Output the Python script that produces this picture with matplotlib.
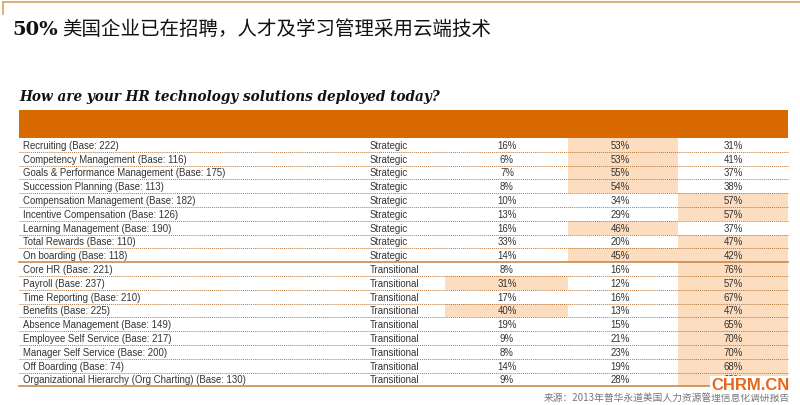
import matplotlib
matplotlib.use("Agg")
import matplotlib.pyplot as plt
from matplotlib.patches import Rectangle

# table data
items = [
    "Recruiting (Base: 222)",
    "Competency Management (Base: 116)",
    "Goals & Performance Management (Base: 175)",
    "Succession Planning (Base: 113)",
    "Compensation Management (Base: 182)",
    "Incentive Compensation (Base: 126)",
    "Learning Management (Base: 190)",
    "Total Rewards (Base: 110)",
    "On boarding (Base: 118)",
    "Core HR (Base: 221)",
    "Payroll (Base: 237)",
    "Time Reporting (Base: 210)",
    "Benefits (Base: 225)",
    "Absence Management (Base: 149)",
    "Employee Self Service (Base: 217)",
    "Manager Self Service (Base: 200)",
    "Off Boarding (Base: 74)",
    "Organizational Hierarchy (Org Charting) (Base: 130)",
]
category = ["Strategic"] * 9 + ["Transitional"] * 9
col1 = [16, 6, 7, 8, 10, 13, 16, 33, 14, 8, 31, 17, 40, 19, 9, 8, 14, 9]
col2 = [53, 53, 55, 54, 34, 29, 46, 20, 45, 16, 12, 16, 13, 15, 21, 23, 19, 28]
col3 = [31, 41, 37, 38, 57, 57, 37, 47, 42, 76, 57, 67, 47, 65, 70, 70, 68, 63]
# highlighted cells (row, column index 0..2)
highlight = [(0, 1), (1, 1), (2, 1), (3, 1), (4, 2), (5, 2), (6, 1), (7, 2),
             (8, 1), (8, 2), (9, 2), (10, 0), (10, 2), (11, 2), (12, 0), (12, 2),
             (13, 2), (14, 2), (15, 2), (16, 2), (17, 2)]

orange = "#D96A00"
peach = "#FCDDC0"
line_col = "#B8763A"
txt = "#333333"

fig = plt.figure(figsize=(8, 4.06), dpi=100)
ax = fig.add_axes([0, 0, 1, 1])
ax.set_xlim(0, 800)
ax.set_ylim(406, 0)
ax.axis("off")

# frame at top
ax.plot([3, 800], [3, 3], color="#D9A066", lw=1.2)
ax.plot([3, 3], [3, 15], color="#D9A066", lw=1.2)

ax.text(12, 30, "50%", fontsize=14, fontweight="bold", family="DejaVu Serif",
        va="center", ha="left", color="#111111")
ax.text(62, 29, "美国企业已在招聘，人才及学习管理采用云端技术", fontsize=14,
        family=["Noto Sans CJK SC", "DejaVu Sans"], va="center", ha="left", color="#111111")

ax.text(19, 97, "How are your HR technology solutions deployed today?", fontsize=9.85,
        family="DejaVu Serif", fontweight="bold", style="italic", va="center", ha="left",
        color="#111111")

left, right = 19, 788
top = 139
rh = 13.8
ax.add_patch(Rectangle((left, 111), right - left, 27.5, color=orange, lw=0))

col_edges = [445, 568, 678, 788]
col_centers = [507, 620, 733]
values = [col1, col2, col3]

for r, c in highlight:
    ax.add_patch(Rectangle((col_edges[c], top + r * rh), col_edges[c + 1] - col_edges[c], rh,
                           color=peach, lw=0))

font = dict(fontsize=6.9, family="Liberation Sans", color=txt, va="center")
n = len(items)
for i in range(n):
    y = top + (i + 0.5) * rh
    ax.text(23, y, items[i], ha="left", **font)
    ax.text(370, y, category[i], ha="left", **font)
    for k in range(3):
        ax.text(col_centers[k], y, f"{values[k][i]}%", ha="center", **font)
    yl = top + (i + 1) * rh
    if i == 8 or i == n - 1:
        ax.plot([left, right], [yl, yl], color="#C98A4E", lw=1.2)
    else:
        ax.plot([left, right], [yl, yl], color=line_col, lw=0.7, linestyle=(0, (1, 1)))

ax.text(790, 398, "来源：2013年普华永道美国人力资源管理信息化调研报告", fontsize=7,
        family=["Noto Sans CJK SC", "DejaVu Sans"], color="#777777", ha="right", va="center")
ax.text(750, 386, "CHRM.CN", fontsize=12, fontweight="bold", family="Liberation Sans",
        color="#E8661C", ha="center", va="center",
        bbox=dict(facecolor="white", edgecolor="none", pad=1))

fig.savefig("out.png", dpi=100)
